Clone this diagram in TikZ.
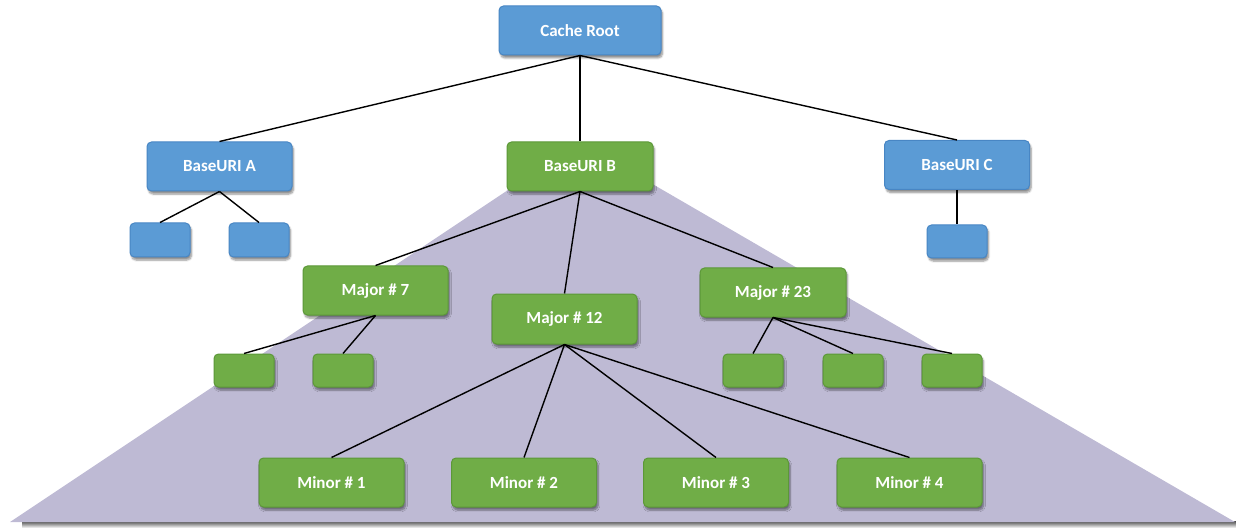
\documentclass[tikz,border=0pt]{standalone}
\usepackage{fontspec}
\setmainfont{Carlito}
\usetikzlibrary{shadows.blur}
\definecolor{bluefill}{RGB}{91,155,213}
\definecolor{blueedge}{RGB}{72,134,196}
\definecolor{greenfill}{RGB}{112,173,71}
\definecolor{greenedge}{RGB}{92,152,56}
\definecolor{trifill}{RGB}{190,186,212}
\tikzset{
  box/.style={rectangle, rounded corners=4.5pt, line width=1pt, inner sep=0pt,
    text=white, font=\bfseries\fontsize{17}{19}\selectfont,
    blur shadow={shadow xshift=1.5pt, shadow yshift=-3pt, shadow blur steps=6, shadow opacity=45}},
  bluebox/.style={box, fill=bluefill, draw=blueedge},
  greenbox/.style={box, fill=greenfill, draw=greenedge},
  big/.style={minimum width=145pt, minimum height=49pt},
  small/.style={minimum width=60pt, minimum height=34pt},
  link/.style={line width=1.4pt, black},
}
\begin{document}
\begin{tikzpicture}[x=1pt,y=-1pt]
\useasboundingbox (0,0) rectangle (1236,529);
% triangle with bottom shadow
\shade[top color=black!70, bottom color=white] (22,521) rectangle (1236,528);
\fill[trifill] (580,142) -- (10,522) -- (1235,522) -- cycle;

% nodes
\node[bluebox, big, minimum width=162pt] (root) at (580,30.5) {Cache Root};
\node[bluebox, big] (A) at (219.5,166.5) {BaseURI A};
\node[greenbox, big, minimum width=146pt] (B) at (580,166.5) {BaseURI B};
\node[bluebox, big] (C) at (957,165) {BaseURI C};
\node[bluebox, small] (a1) at (160,240) {};
\node[bluebox, small] (a2) at (259,240) {};
\node[bluebox, small, minimum height=33pt] (c1) at (957,241.5) {};
\node[greenbox, big] (M7) at (375.5,290.5) {Major \# 7};
\node[greenbox, big, minimum height=50pt] (M12) at (564.5,319) {Major \# 12};
\node[greenbox, big, minimum width=146pt] (M23) at (773,292.5) {Major \# 23};
\node[greenbox, small, minimum height=33pt] (m7a) at (244,370.5) {};
\node[greenbox, small, minimum height=33pt] (m7b) at (343,370.5) {};
\node[greenbox, small, minimum height=33pt] (m23a) at (753,370.5) {};
\node[greenbox, small, minimum height=33pt] (m23b) at (853,370.5) {};
\node[greenbox, small, minimum height=33pt] (m23c) at (952,370.5) {};
\node[greenbox, big] (n1) at (331.5,482.5) {Minor \# 1};
\node[greenbox, big] (n2) at (524,482.5) {Minor \# 2};
\node[greenbox, big] (n3) at (716,482.5) {Minor \# 3};
\node[greenbox, big] (n4) at (909.5,482.5) {Minor \# 4};

% connectors
\draw[link] (root.south) -- (A.north);
\draw[link] (root.south) -- (B.north);
\draw[link] (root.south) -- (C.north);
\draw[link] (A.south) -- (a1.north);
\draw[link] (A.south) -- (a2.north);
\draw[link] (C.south) -- (c1.north);
\draw[link] (B.south) -- (M7.north);
\draw[link] (B.south) -- (M12.north);
\draw[link] (B.south) -- (M23.north);
\draw[link] (M7.south) -- (m7a.north);
\draw[link] (M7.south) -- (m7b.north);
\draw[link] (M23.south) -- (m23a.north);
\draw[link] (M23.south) -- (m23b.north);
\draw[link] (M23.south) -- (m23c.north);
\draw[link] (M12.south) -- (n1.north);
\draw[link] (M12.south) -- (n2.north);
\draw[link] (M12.south) -- (n3.north);
\draw[link] (M12.south) -- (n4.north);
\end{tikzpicture}
\end{document}
